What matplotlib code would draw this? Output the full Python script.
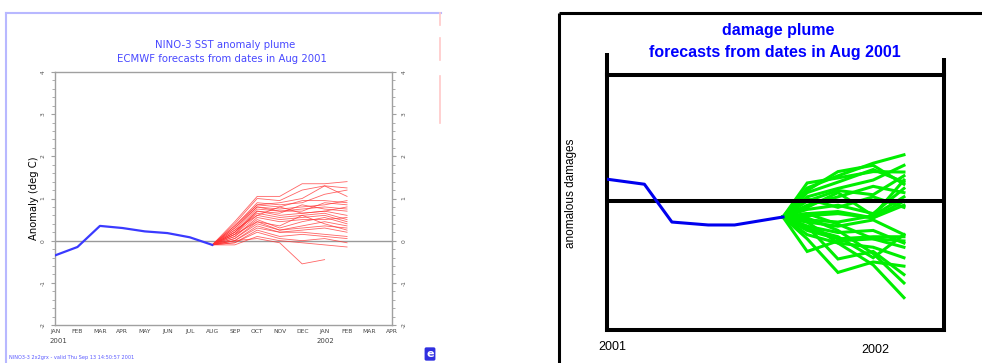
import numpy as np
import matplotlib
matplotlib.use("Agg")
import matplotlib.pyplot as plt

# ---------------- data: left panel (NINO-3 SST anomaly plume) ----------------
month_labels = ["JAN", "FEB", "MAR", "APR", "MAY", "JUN", "JUL", "AUG",
                "SEP", "OCT", "NOV", "DEC", "JAN", "FEB", "MAR", "APR"]
obs_months = [0, 1, 2, 3, 4, 5, 6, 7]
obs_anom = [-0.35, -0.15, 0.35, 0.30, 0.22, 0.18, 0.08, -0.10]

fc_months = [7, 8, 9, 10, 11, 12, 13]
nan = np.nan
fc_members = [
    [-0.1, 0.45, 1.05, 1.05, 1.35, 1.35, 1.40],
    [-0.1, 0.40, 1.00, 0.95, 1.20, 1.30, 1.25],
    [-0.1, 0.35, 0.90, 0.85, 0.90, 1.10, 1.20],
    [-0.1, 0.30, 0.85, 0.80, 0.95, 0.95, 0.90],
    [-0.1, 0.30, 0.80, 0.75, 0.80, 0.85, 0.95],
    [-0.1, 0.25, 0.80, 0.70, 0.75, 0.80, 0.75],
    [-0.1, 0.20, 0.75, 0.70, 0.70, 0.90, 0.85],
    [-0.1, 0.20, 0.70, 0.65, 0.85, 0.75, 0.70],
    [-0.1, 0.15, 0.70, 0.60, 0.65, 0.70, 0.60],
    [-0.1, 0.20, 0.65, 0.55, 0.60, 0.65, 0.50],
    [-0.1, 0.15, 0.60, 0.50, 0.55, 0.60, 0.45],
    [-0.1, 0.10, 0.55, 0.45, 0.50, 0.50, 0.55],
    [-0.1, 0.10, 0.50, 0.30, 0.45, 0.55, 0.40],
    [-0.1, 0.05, 0.45, 0.25, 0.35, 0.45, 0.35],
    [-0.1, 0.05, 0.40, 0.25, 0.30, 0.35, 0.30],
    [-0.1, 0.00, 0.35, 0.20, 0.25, 0.30, 0.20],
    [-0.1, 0.00, 0.30, 0.20, 0.20, 0.15, 0.10],
    [-0.1, -0.05, 0.25, 0.10, 0.15, 0.10, 0.05],
    [-0.1, -0.05, 0.20, 0.05, 0.00, 0.05, -0.05],
    [-0.1, -0.10, 0.10, 0.00, -0.05, -0.10, -0.15],
    [-0.1, 0.00, 0.05, -0.05, -0.55, -0.45, nan],
    [-0.1, 0.35, 0.85, 0.90, 1.00, 1.30, 1.05],
    [-0.1, 0.25, 0.60, 0.80, 0.65, 0.70, 0.80],
    [-0.1, 0.15, 0.45, 0.35, 0.60, 0.40, 0.25],
]

# ---------------- data: right panel (damage plume) ----------------
dmg_obs_x = [0.0, 1.7, 2.95, 4.6, 5.8, 8.0]
dmg_obs_y = [0.52, 0.40, -0.50, -0.57, -0.57, -0.38]
dmg_fc_x = [8.0, 9.1, 10.5, 12.1, 13.5]
dmg_members = [
    [-0.38, 0.31, 0.60, 0.90, 1.10],
    [-0.38, 0.43, 0.55, 0.70, 0.69],
    [-0.38, 0.20, 0.45, 0.75, 0.45],
    [-0.38, 0.10, 0.30, 0.50, 0.85],
    [-0.38, 0.00, 0.25, 0.15, 0.60],
    [-0.38, -0.10, 0.10, 0.35, 0.20],
    [-0.38, -0.20, -0.10, -0.30, 0.30],
    [-0.38, -0.30, -0.25, -0.40, 0.00],
    [-0.38, -0.35, -0.30, -0.40, -0.10],
    [-0.38, -0.45, -0.50, -0.35, 0.10],
    [-0.38, -0.50, -0.60, -0.45, -0.80],
    [-0.38, -0.60, -0.75, -0.70, -1.00],
    [-0.38, -0.70, -0.90, -0.85, -0.85],
    [-0.38, -0.80, -1.00, -1.10, -1.35],
    [-0.38, -1.20, -0.95, -0.90, -1.10],
    [-0.38, -0.90, -1.70, -1.45, -1.55],
    [-0.38, -0.60, -1.38, -1.20, -1.75],
    [-0.38, -0.50, -1.00, -1.52, -2.30],
    [-0.38, -0.30, -0.55, -0.90, -0.95],
    [-0.38, 0.05, -0.15, 0.10, -0.15],
    [-0.38, -0.15, 0.20, -0.35, 0.50],
    [-0.38, -0.65, -0.85, -1.35, -0.80],
    [-0.38, 0.25, 0.70, 0.85, 0.40],
    [-0.38, -0.40, -0.70, -1.25, -1.95],
]

W, H = 982, 363
fig = plt.figure(figsize=(W / 100, H / 100), dpi=100)

# overlay in pixel coordinates for decorative frames and free text
ov = fig.add_axes([0, 0, 1, 1])
ov.set_xlim(0, W)
ov.set_ylim(H, 0)
ov.axis("off")

def px_axes(x0, y0, x1, y1):
    return fig.add_axes([x0 / W, (H - y1) / H, (x1 - x0) / W, (y1 - y0) / H])

# ---------- left panel decorations ----------
ov.plot([6, 6], [13, H], color="#b8b8ff", lw=1.5)
ov.plot([6, 441], [13, 13], color="#b8b8ff", lw=1.5)
for ya, yb in [(13, 25), (38, 60), (76, 123)]:
    ov.plot([440, 440], [ya, yb], color="#ffc8c8", lw=1.2)

axL = px_axes(55, 72, 392, 325)
grey = "#a0a0a0"
for s in axL.spines.values():
    s.set_color(grey)
    s.set_linewidth(1.0)
axL.set_xlim(0, 15)
axL.set_ylim(-2, 4)
axL.axhline(0, color="#999999", lw=1.0, zorder=1)
for mem in fc_members:
    axL.plot(fc_months, mem, color="#ff3030", lw=0.6, alpha=0.75, zorder=2)
axL.plot(obs_months, obs_anom, color="#3a3aff", lw=1.6, zorder=3)
axL.set_xticks(range(16))
axL.set_xticklabels(month_labels, fontsize=4.3, color="#444444")
axL.set_yticks(range(-2, 5))
axL.set_yticklabels([str(v) for v in range(-2, 5)], fontsize=4.3,
                    color="#555555", rotation=90, va="center")
axL.set_yticks(np.arange(-2, 4.01, 0.2), minor=True)
axL.tick_params(axis="y", which="both", left=True, right=True,
                labelleft=True, labelright=True, color=grey, direction="out")
axL.tick_params(axis="y", which="major", length=3, pad=4)
axL.tick_params(axis="y", which="minor", length=2)
axL.tick_params(axis="x", length=0, pad=3)
axL.set_ylabel("Anomaly (deg C)", fontsize=7.2, labelpad=1)
ov.text(58, 341, "2001", fontsize=5, color="#444444", ha="center", va="center")
ov.text(325, 341, "2002", fontsize=5, color="#444444", ha="center", va="center")
ov.text(225, 45, "NINO-3 SST anomaly plume", fontsize=7.3, color="#4848ff",
        ha="center", va="center")
ov.text(222, 59, "ECMWF forecasts from dates in Aug 2001", fontsize=7.3,
        color="#4848ff", ha="center", va="center")
ov.text(9, 357, "NINO3-3 2x2grx - valid Thu Sep 13 14:50:57 2001", fontsize=3.6,
        color="#5a5aff", ha="left", va="center")
ov.text(430, 354, "e", fontsize=8, color="white", fontweight="bold",
        ha="center", va="center",
        bbox=dict(boxstyle="round,pad=0.15", fc="#3030e0", ec="none"))

# ---------- right panel decorations ----------
ov.plot([559, 559], [13, H], color="black", lw=2.2, solid_capstyle="butt")
ov.plot([559, W], [13, 13], color="black", lw=2.2, solid_capstyle="butt")
ov.plot([607, 607], [53, 76], color="black", lw=2.9, solid_capstyle="butt")
ov.plot([944, 944], [58, 76], color="black", lw=2.9, solid_capstyle="butt")

axR = px_axes(607, 75, 944, 330)
for s in axR.spines.values():
    s.set_color("black")
    s.set_linewidth(2.9)
axR.set_xlim(0, 15.32)
axR.set_ylim(-3.07, 3.0)
axR.set_xticks([])
axR.set_yticks([])
axR.axhline(0, color="black", lw=2.9, zorder=3)
for mem in dmg_members:
    axR.plot(dmg_fc_x, mem, color="#00ee00", lw=2.2, zorder=2,
             solid_joinstyle="miter")
axR.plot(dmg_obs_x, dmg_obs_y, color="#0000ee", lw=2.2, zorder=4)

rf = ["Liberation Sans", "DejaVu Sans"]
ov.text(778, 30, "damage plume", fontsize=11.5, fontweight="bold",
        color="#0000ff", ha="center", va="center", family=rf)
ov.text(775, 52, "forecasts from dates in Aug 2001", fontsize=11.5,
        fontweight="bold", color="#0000ff", ha="center", va="center", family=rf)
ov.text(571, 193, "anomalous damages", fontsize=8.5, rotation=90,
        ha="center", va="center", family=rf)
ov.text(612, 347, "2001", fontsize=9, ha="center", va="center", family=rf)
ov.text(875, 350, "2002", fontsize=9, ha="center", va="center", family=rf)

fig.savefig("out.png", dpi=100)
